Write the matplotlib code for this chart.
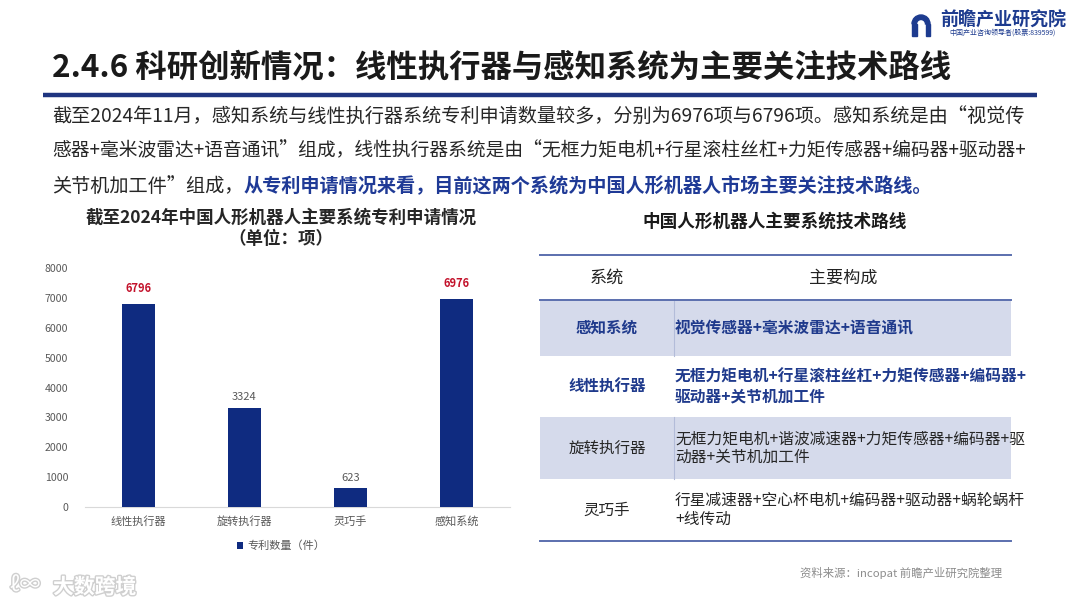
import matplotlib
matplotlib.use('Agg')
import matplotlib.pyplot as plt
from matplotlib.patches import Rectangle, Wedge
import matplotlib.patheffects as pe

plt.rcParams['font.family'] = ['Noto Sans CJK SC', 'DejaVu Sans']

# 图表数据
categories = ['线性执行器', '旋转执行器', '灵巧手', '感知系统']
patents = [6796, 3324, 623, 6976]
highlight = ['线性执行器', '感知系统']
series_name = '专利数量（件）'
y_ticks = [0, 1000, 2000, 3000, 4000, 5000, 6000, 7000, 8000]
chart_title = '截至2024年中国人形机器人主要系统专利申请情况\n（单位：项）'

# 表格数据
table_title = '中国人形机器人主要系统技术路线'
table_header = ['系统', '主要构成']
table_systems = ['感知系统', '线性执行器', '旋转执行器', '灵巧手']
table_parts = [
    '视觉传感器+毫米波雷达+语音通讯',
    '无框力矩电机+行星滚柱丝杠+力矩传感器+编码器+\n驱动器+关节机加工件',
    '无框力矩电机+谐波减速器+力矩传感器+编码器+驱\n动器+关节机加工件',
    '行星减速器+空心杯电机+编码器+驱动器+蜗轮蜗杆\n+线传动',
]
table_key_rows = ['感知系统', '线性执行器']

# 页面文字
page_title = '2.4.6 科研创新情况：线性执行器与感知系统为主要关注技术路线'
para_lines = [
    '截至2024年11月，感知系统与线性执行器系统专利申请数量较多，分别为6976项与6796项。感知系统是由“视觉传',
    '感器+毫米波雷达+语音通讯”组成，线性执行器系统是由“无框力矩电机+行星滚柱丝杠+力矩传感器+编码器+驱动器+',
    '关节机加工件”组成，',
]
para_blue = '从专利申请情况来看，目前这两个系统为中国人形机器人市场主要关注技术路线。'
source = '资料来源：incopat 前瞻产业研究院整理'

navy = '#0f2b80'
blue_txt = '#1f3a8c'
red = '#c3122b'
gray = '#595959'

fig = plt.figure(figsize=(10.8, 6.07), dpi=100)
fig.patch.set_facecolor('white')

# 背景层，用像素坐标
bg = fig.add_axes([0, 0, 1, 1])
bg.set_xlim(0, 1080)
bg.set_ylim(607, 0)
bg.axis('off')

# logo
bg.add_patch(Wedge((921, 24), 9, 180, 360, width=4.5, color='#1d3b8f'))
bg.add_patch(Rectangle((912, 24), 4.5, 12, color='#1d3b8f'))
bg.add_patch(Rectangle((925.5, 24), 4.5, 12, color='#1d3b8f'))
bg.text(1003, 20, '前瞻产业研究院', fontsize=13, fontweight='bold', color='#1d3b8f',
        ha='center', va='center')
bg.text(1003, 33, '中国产业咨询领导者(股票:839599)', fontsize=5, color='#1d3b8f',
        ha='center', va='center')

# 标题
bg.text(52, 68, page_title, fontsize=22.6, fontweight='black', color='#1a1a1a',
        ha='left', va='center')
bg.plot([43, 1037], [95, 95], color='#1f3580', lw=3.2, solid_capstyle='butt')

# 正文（前两行两端对齐，按行调字号）
line_y = [116, 151, 186]
line_size = [13.8, 13.5, 13.8]
for txt, y, fs in zip(para_lines, line_y, line_size):
    t = bg.text(52, y, txt, fontsize=fs, color='#262626', ha='left', va='center')
bg.annotate(para_blue, xy=(1, 0.5), xycoords=t, fontsize=13.8, fontweight='bold',
            color='#1f3a96', ha='left', va='center')

# 左侧柱状图
bg.text(281, 218, chart_title.split('\n')[0], fontsize=12.6, fontweight='bold',
        color='#262626', ha='center', va='center')
bg.text(281, 239, chart_title.split('\n')[1], fontsize=12.6, fontweight='bold',
        color='#262626', ha='center', va='center')

ax = fig.add_axes([85 / 1080, 100 / 607, 425 / 1080, 239 / 607])
ax.patch.set_alpha(0)
x = range(len(categories))
bars = ax.bar(x, patents, width=0.31, color=navy, label=series_name, zorder=3)
ax.set_xlim(-0.5, 3.5)
ax.set_ylim(0, 8000)
ax.set_yticks(y_ticks)
ax.set_yticklabels([str(v) for v in y_ticks])
ax.set_xticks(list(x))
ax.set_xticklabels(categories)
ax.tick_params(axis='y', length=0, pad=12, labelsize=7.6, labelcolor=gray)
ax.tick_params(axis='x', length=0, pad=6.5, labelsize=8, labelcolor=gray)
for s in ['top', 'right', 'left']:
    ax.spines[s].set_visible(False)
ax.spines['bottom'].set_color('#d9d9d9')
ax.spines['bottom'].set_linewidth(0.8)

for b, cat, v in zip(bars, categories, patents):
    if cat in highlight:
        ax.annotate(str(v), (b.get_x() + b.get_width() / 2, v), xytext=(0, 6.5),
                    textcoords='offset points', ha='center', va='bottom',
                    fontsize=8, fontweight='bold', color=red)
    else:
        ax.annotate(str(v), (b.get_x() + b.get_width() / 2, v), xytext=(0, 4),
                    textcoords='offset points', ha='center', va='bottom',
                    fontsize=8, color=gray)

ax.legend(loc='center', bbox_to_anchor=(281 / 1080, 1 - 546 / 607),
          bbox_transform=fig.transFigure, frameon=False, fontsize=8,
          handlelength=0.55, handleheight=0.55, handletextpad=0.4,
          labelcolor=gray)

# 右侧表格
bg.text(775, 222, table_title, fontsize=12.7, fontweight='bold', color='#1a1a1a',
        ha='center', va='center')
tx0, tx1, col_x = 540, 1011, 674
row_edges = [300, 356, 417, 479, 541]
for i in range(len(table_systems)):
    if i % 2 == 0:
        bg.add_patch(Rectangle((tx0, row_edges[i]), tx1 - tx0,
                               row_edges[i + 1] - row_edges[i],
                               facecolor='#d5daeb', edgecolor='none'))
        bg.plot([col_x, col_x], [row_edges[i], row_edges[i + 1]], color='#b3bcd9', lw=0.8)
for y in [255, 300, 541]:
    bg.plot([tx0, tx1], [y, y], color='#5b6fae', lw=1.4)

bg.text(607, 278, table_header[0], fontsize=12.3, fontweight='medium', color='#222222',
        ha='center', va='center')
bg.text(843, 278, table_header[1], fontsize=12.3, fontweight='medium', color='#222222',
        ha='center', va='center')

for i, (sys_name, parts) in enumerate(zip(table_systems, table_parts)):
    yc = (row_edges[i] + row_edges[i + 1]) / 2
    if sys_name in table_key_rows:
        style = dict(fontweight='bold', color=blue_txt)
    else:
        style = dict(fontweight='normal', color='#262626')
    bg.text(607, yc, sys_name, fontsize=11.2, ha='center', va='center', **style)
    lines = parts.split('\n')
    off = (len(lines) - 1) * 9.5
    for k, ln in enumerate(lines):
        bg.text(col_x + 1, yc - off + k * 19, ln, fontsize=11.3, ha='left',
                va='center', **style)

bg.text(1002, 573, source, fontsize=8.2, color='#8c8c8c', ha='right', va='center')

# 左下角水印
bg.text(53, 587, '大数跨境', fontsize=15, fontweight='bold', color='white',
        ha='left', va='center',
        path_effects=[pe.withStroke(linewidth=2, foreground='#cfcfcf')])
bg.text(10, 585, 'ℓ∞', fontsize=15, color='white', ha='left', va='center',
        path_effects=[pe.withStroke(linewidth=2, foreground='#cfcfcf')])

fig.savefig('out.png', dpi=100, facecolor='white')
